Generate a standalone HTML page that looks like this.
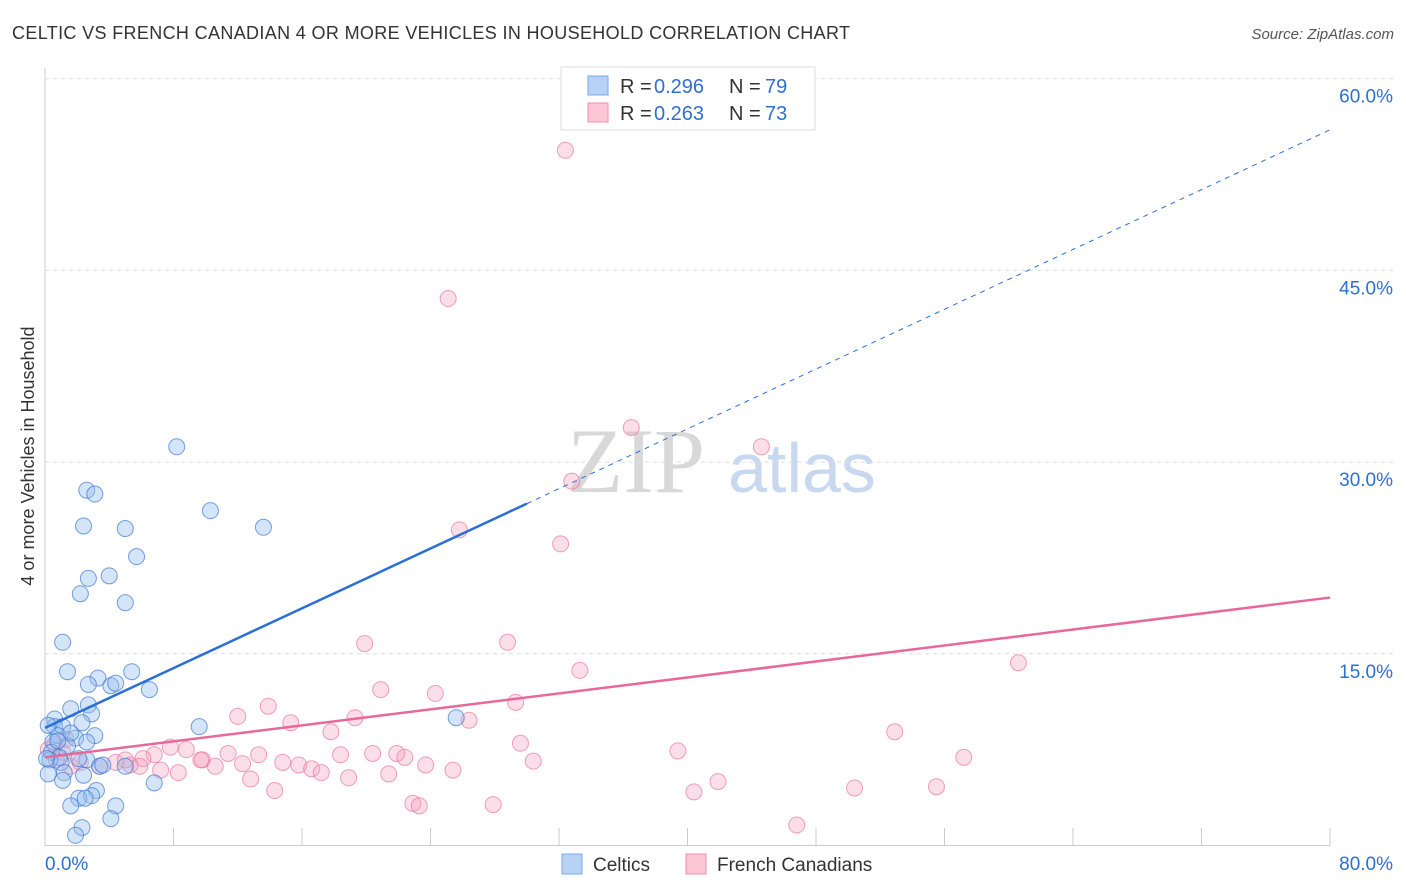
<!DOCTYPE html>
<html><head><meta charset="utf-8"><style>
body{margin:0;background:#fff;font-family:"Liberation Sans",sans-serif}
</style></head><body>
<svg id="c" width="1406" height="892" xmlns="http://www.w3.org/2000/svg" style="display:block">
<text x="12" y="39" font-size="18" fill="#333" letter-spacing="0.35">CELTIC VS FRENCH CANADIAN 4 OR MORE VEHICLES IN HOUSEHOLD CORRELATION CHART</text>
<text x="1394" y="39" font-size="15" fill="#555" text-anchor="end" font-style="italic">Source: ZipAtlas.com</text>
<text x="34" y="456" font-size="18" fill="#333" text-anchor="middle" transform="rotate(-90 34 456)">4 or more Vehicles in Household</text>
<text x="636" y="492" font-size="92" fill="#d8d8d8" font-family="Liberation Serif,serif" text-anchor="middle">ZIP</text>
<text x="802" y="492" font-size="70" fill="#c8d8f0" text-anchor="middle">atlas</text>
<g id="grid"></g><g id="pts"></g><g id="lines"></g>
<g>
<rect x="561" y="67" width="254" height="63" fill="#fff" stroke="#ddd"/>
<rect x="588" y="76" width="20" height="19" fill="#b8d2f5" stroke="#7aa8e8"/>
<rect x="588" y="103" width="20" height="19" fill="#fbc6d6" stroke="#f08cab"/>
<text x="620" y="93" font-size="20" fill="#333">R =</text><text x="654" y="93" font-size="20" fill="#2f6fd0">0.296</text>
<text x="729" y="93" font-size="20" fill="#333">N =</text><text x="765" y="93" font-size="20" fill="#2f6fd0">79</text>
<text x="620" y="120" font-size="20" fill="#333">R =</text><text x="654" y="120" font-size="20" fill="#2f6fd0">0.263</text>
<text x="729" y="120" font-size="20" fill="#333">N =</text><text x="765" y="120" font-size="20" fill="#2f6fd0">73</text>
</g>
<g>
<rect x="562" y="854" width="20" height="20" fill="#b8d2f5" stroke="#7aa8e8"/>
<text x="593" y="871" font-size="19" fill="#333">Celtics</text>
<rect x="686" y="854" width="20" height="20" fill="#fbc6d6" stroke="#f08cab"/>
<text x="717" y="871" font-size="19" fill="#333">French Canadians</text>
</g>
</svg>
<script>
const yTicks=[15,30,45,60];
const yTickLabels=["15.0%","30.0%","45.0%","60.0%"];
const xTickLabels=["0.0%","80.0%"];
const celticsX=[8.2,2.6,3.1,10.3,2.4,5.0,13.6,5.7,2.7,4.0,2.2,5.0,1.1,1.4,3.3,5.4,2.7,4.1,4.4,6.5,1.6,2.7,2.9,2.3,0.6,0.6,1.1,0.8,3.1,1.9,0.5,2.6,1.4,0.4,0.9,0.3,0.1,1.0,2.6,2.1,3.4,5.0,1.2,0.2,2.4,1.1,6.8,3.2,2.9,4.4,2.1,1.6,2.5,4.1,2.3,1.9,9.6,25.6,0.2,1.6,3.6,0.8];
const celticsY=[31.2,27.8,27.5,26.2,25.0,24.8,24.9,22.6,20.9,21.1,19.7,19.0,15.9,13.6,13.1,13.6,12.6,12.5,12.7,12.2,10.7,11.0,10.3,9.6,9.9,9.3,9.3,8.6,8.6,8.4,8.1,8.1,7.8,7.3,6.9,6.7,6.8,6.5,6.7,6.8,6.2,6.2,5.7,5.6,5.5,5.1,4.9,4.3,3.9,3.1,3.7,3.1,3.7,2.1,1.4,0.8,9.3,10.0,9.4,8.8,6.3,8.2];
const frenchX=[32.4,25.1,36.5,44.6,32.8,25.8,32.1,19.9,28.8,33.3,60.6,20.9,24.3,29.3,13.9,12.0,15.3,19.3,26.4,17.8,52.9,29.6,39.4,7.8,8.8,6.8,11.4,13.3,9.8,6.1,18.4,20.4,21.9,22.4,14.8,15.8,16.6,17.2,12.3,9.7,10.6,8.3,7.2,5.3,4.4,3.4,23.7,25.4,30.4,21.4,12.8,18.9,57.2,41.9,14.3,22.9,23.3,27.9,40.4,50.4,55.5,46.8,0.7,1.1,1.6,2.2,0.2,0.6,1.3,5.9,5.0];
const frenchY=[54.4,42.8,32.7,31.2,28.5,24.7,23.6,15.8,15.9,13.7,14.3,12.2,11.9,11.2,10.9,10.1,9.6,10.0,9.8,8.9,8.9,8.0,7.4,7.7,7.5,7.1,7.2,7.1,6.7,6.8,7.1,7.2,7.2,6.9,6.5,6.3,6.0,5.7,6.4,6.7,6.2,5.7,5.9,6.3,6.5,6.2,6.3,5.9,6.6,5.6,5.2,5.3,6.9,5.0,4.3,3.3,3.1,3.2,4.2,4.5,4.6,1.6,6.7,7.3,6.2,6.5,7.5,7.9,8.3,6.2,6.7];
const blueLine=[9.2,56.0], pinkLine=[6.9,19.4], blueSolidEnd=30.0;
const X0=45,X1=1330,Y0=845.5,PPY=12.78;
const sx=v=>X0+v*(X1-X0)/80, sy=v=>Y0-v*PPY;
const NS="http://www.w3.org/2000/svg";
function mk(t,a,p){const e=document.createElementNS(NS,t);for(const k in a)e.setAttribute(k,a[k]);p.appendChild(e);return e;}
const g=document.getElementById('grid');
mk('line',{x1:X0,y1:68,x2:X0,y2:Y0,stroke:'#ccc'},g);
mk('line',{x1:X0,y1:Y0,x2:X1,y2:Y0,stroke:'#ccc'},g);
for(let i=0;i<yTicks.length;i++){
 const l=mk('line',{x1:X0,y1:sy(yTicks[i]),x2:1394,y2:sy(yTicks[i]),stroke:'#ddd','stroke-dasharray':'4 4'},g);
 
 
 const t=mk('text',{x:1393,y:sy(yTicks[i])+24,'font-size':19,fill:'#2f6fd0','text-anchor':'end'},g);
 t.textContent=yTickLabels[i];
 
 
}
for(let i=1;i<=10;i++){mk('line',{x1:sx(i*8),y1:828,x2:sx(i*8),y2:Y0,stroke:'#ccc'},g);}
const tx0=mk('text',{x:45,y:870,'font-size':19,fill:'#2f6fd0'},g);tx0.textContent=xTickLabels[0];


const tx1=mk('text',{x:1393,y:870,'font-size':19,fill:'#2f6fd0','text-anchor':'end'},g);tx1.textContent=xTickLabels[1];


const p=document.getElementById('pts');
for(let i=0;i<frenchX.length;i++){const c=mk('circle',{cx:sx(frenchX[i]),cy:sy(frenchY[i]),r:8,fill:'rgba(246,160,190,0.35)',stroke:'rgba(232,120,160,0.7)'},p);
 
 }
for(let i=0;i<celticsX.length;i++){const c=mk('circle',{cx:sx(celticsX[i]),cy:sy(celticsY[i]),r:8,fill:'rgba(150,190,240,0.4)',stroke:'rgba(60,120,210,0.7)'},p);
 
 }
const L=document.getElementById('lines');
const by=x=>blueLine[0]+(blueLine[1]-blueLine[0])*x/80;
const py=x=>pinkLine[0]+(pinkLine[1]-pinkLine[0])*x/80;
const b1=mk('line',{x1:sx(0),y1:sy(by(0)),x2:sx(blueSolidEnd),y2:sy(by(blueSolidEnd)),stroke:'#2a6fd6','stroke-width':2.5},L);


const b2=mk('line',{x1:sx(blueSolidEnd),y1:sy(by(blueSolidEnd)),x2:sx(80),y2:sy(by(80)),stroke:'#2a6fd6','stroke-width':1,'stroke-dasharray':'5 5'},L);


const pl=mk('line',{x1:sx(0),y1:sy(py(0)),x2:sx(80),y2:sy(py(80)),stroke:'#e8689a','stroke-width':2.5},L);


</script>
</body></html>
